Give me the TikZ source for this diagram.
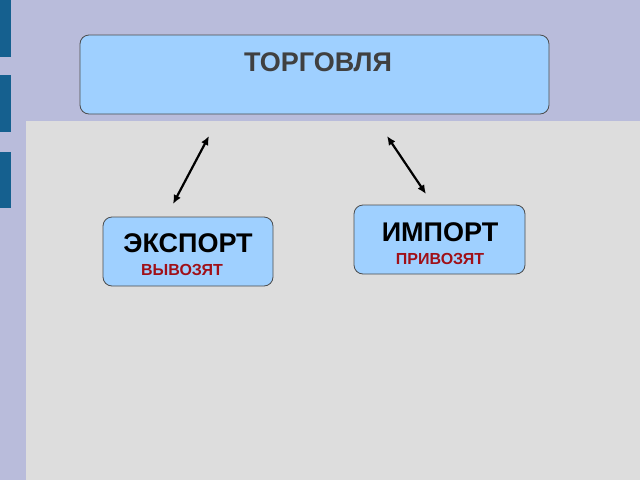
\documentclass[tikz,border=0pt]{standalone}
\usepackage{fontspec}
\setmainfont{Liberation Sans}
\usetikzlibrary{arrows.meta}
\definecolor{bglav}{HTML}{B9BCDB}
\definecolor{panel}{HTML}{DDDDDD}
\definecolor{barblue}{HTML}{15608F}
\definecolor{boxblue}{HTML}{9FD0FF}
\definecolor{redtext}{HTML}{A01018}
\begin{document}
\begin{tikzpicture}[x=1pt, y=-1pt,
    blok/.style={draw=black!70, fill=boxblue, rounded corners=9pt, line width=0.8pt},
    bigtext/.style={font=\bfseries\fontsize{27}{30}\selectfont, inner sep=0pt},
    smalltext/.style={text=redtext, font=\bfseries\fontsize{16}{18}\selectfont, inner sep=0pt},
    strelka/.style={{Latex[length=9pt,width=8pt]}-{Latex[length=9pt,width=8pt]}, line width=2.2pt}]
    \useasboundingbox (0,0) rectangle (640,480);
    \fill[bglav] (0,0) rectangle (640,480);
    \fill[panel] (26,121) rectangle (640,480);
    \fill[barblue] (0,0) rectangle (11,57);
    \fill[barblue] (0,75) rectangle (11,132);
    \fill[barblue] (0,152) rectangle (11,208);

    \draw[blok] (80,35) rectangle (549,114);
    \node[bigtext, text=black!75] (torg) at (318,62) {ТОРГОВЛЯ};

    \draw[blok] (103,217) rectangle (273,286);
    \node[bigtext] (eksport) at (188,243) {ЭКСПОРТ};
    \node[smalltext] (vyvoz) at (182,270) {ВЫВОЗЯТ};

    \draw[blok] (354,205) rectangle (525,274);
    \node[bigtext] (import) at (440,232) {ИМПОРТ};
    \node[smalltext] (privoz) at (440,259) {ПРИВОЗЯТ};

    \coordinate (a1) at (209,136);
    \coordinate (a2) at (173,204);
    \coordinate (b1) at (387,136);
    \coordinate (b2) at (426,194);
    \draw[strelka] (a1) -- (a2);
    \draw[strelka] (b1) -- (b2);
\end{tikzpicture}
\end{document}
